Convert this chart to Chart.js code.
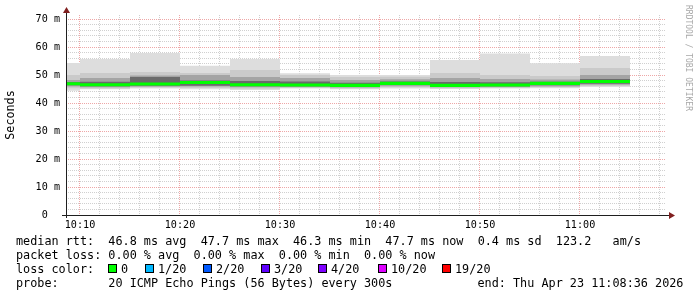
<!DOCTYPE html>
<html><head><meta charset="utf-8">
<script src="https://cdn.jsdelivr.net/npm/chart.js@4/dist/chart.umd.min.js"></script>
<style>
html,body{margin:0;padding:0;background:#fff;}
#wrap{position:relative;width:697px;height:297px;overflow:hidden;background:#fff;}
canvas{position:absolute;left:0;top:0;}
.t{position:absolute;font-family:'DejaVu Sans Mono',monospace;font-size:11.8px;line-height:14px;white-space:pre;color:#000;}
.box{position:absolute;width:7px;height:7px;border:1px solid #000;}
#wm{position:absolute;left:684px;top:5px;writing-mode:vertical-rl;font-family:'DejaVu Sans Mono',monospace;font-size:8px;line-height:9px;color:#a8a8a8;white-space:pre;}
</style></head><body>
<div id="wrap">
<canvas id="c" width="697" height="297"></canvas>
<div id="wm">RRDTOOL / TOBI OETIKER</div>
<div id="footer"></div>
</div>
<script>
// ---- data ----
const binStarts = ['10:05','10:10','10:15','10:20','10:25','10:30','10:35','10:40','10:45','10:50','10:55','11:00'];
const binMinutes = 5;
const viewStart = '10:08:36';
const viewEnd = '11:08:36';
const xTickLabels = ['10:10','10:20','10:30','10:40','10:50','11:00'];
const yTickValues = [0,10,20,30,40,50,60,70];
const yTickLabels = ['0','10 m','20 m','30 m','40 m','50 m','60 m','70 m'];

// sorted ping ranks (ms) per 5-minute bin
const pingMax = [54.3, 55.7, 57.9, 53.3, 55.7, 50.6, 50.0, 50.0, 55.4, 57.7, 54.2, 56.8];
const ping19  = [50.0, 50.7, 51.1, 50.7, 51.8, 50.0, 49.3, 49.4, 50.7, 50.0, 49.6, 52.5];
const ping17  = [48.2, 48.9, 49.8, 50.0, 49.3, 48.9, 48.2, 48.5, 48.9, 48.6, 48.4, 50.0];
const ping14  = [47.5, 47.6, 49.3, 48.0, 47.9, 47.7, 47.2, 47.7, 47.5, 47.4, 47.6, 48.6];
const median  = [46.9, 46.5, 46.8, 47.3, 46.5, 46.4, 46.3, 47.0, 46.3, 46.4, 47.0, 47.7];
const ping7   = [46.3, 46.0, 46.2, 46.2, 46.0, 46.0, 45.8, 46.4, 45.9, 46.0, 46.3, 46.9];
const ping4   = [45.9, 45.6, 45.8, 45.9, 45.6, 45.7, 45.5, 46.0, 45.6, 45.7, 45.9, 46.5];
const ping2   = [45.3, 45.2, 45.5, 45.4, 45.1, 45.4, 45.2, 45.6, 45.3, 45.4, 45.6, 46.1];
const pingMin = [44.4, 44.9, 45.2, 44.9, 44.6, 45.2, 44.9, 45.2, 45.0, 45.2, 45.3, 45.7];

const lossLabels = ['0','1/20','2/20','3/20','4/20','10/20','19/20'];
const lossColors = ['#00ff00','#00b8ff','#0059ff','#5e00ff','#7e00ff','#dd00ff','#ff0000'];

// ---- helpers / styles ----
const toMin = s => { const p = s.split(':').map(Number); return p[0]*60 + p[1] + (p[2]||0)/60 - 600; };
const FONT = "'DejaVu Sans Mono', monospace";
const minorGrid = 'rgba(143,143,143,0.42)';
const majorGrid = 'rgba(222,79,79,0.5)';
const yMax = 71.43;
const medianHalf = 0.55;
const plotWidth = 697 - 66 - 31;
const barPx = plotWidth * binMinutes / (toMin(viewEnd) - toMin(viewStart));

const bar = (label, lo, hi, color) => ({
  label, type: 'bar', backgroundColor: color, borderWidth: 0, inflateAmount: 0,
  barThickness: barPx, grouped: false,
  data: binStarts.map((t, i) => ({ x: toMin(t) + binMinutes / 2, y: [lo[i], hi[i]] }))
});

const datasets = [
  bar('median', median.map(v => v - medianHalf), median.map(v => v + medianHalf), lossColors[0]),
  bar('smoke4', ping7, ping14, '#6b6b6b'),
  bar('smoke3', ping4, ping17, '#a4a4a4'),
  bar('smoke2', ping2, ping19, '#cacaca'),
  bar('smoke1', pingMin, pingMax, '#dddddd')
];

const axisPlugin = {
  id: 'rrdAxes',
  afterDraw(chart) {
    const { ctx, chartArea: a } = chart;
    ctx.save();
    ctx.fillStyle = '#1f1f1f';
    ctx.fillRect(a.left, a.top - 3, 1, a.bottom - a.top + 6);
    ctx.fillRect(a.left - 4, a.bottom, a.right - a.left + 8, 1);
    ctx.fillStyle = '#801f1f';
    ctx.beginPath();
    ctx.moveTo(a.left - 3, a.top - 2); ctx.lineTo(a.left + 4, a.top - 2); ctx.lineTo(a.left + 0.5, a.top - 8);
    ctx.closePath(); ctx.fill();
    ctx.beginPath();
    ctx.moveTo(a.right + 3, a.bottom - 3); ctx.lineTo(a.right + 3, a.bottom + 4); ctx.lineTo(a.right + 9, a.bottom + 0.5);
    ctx.closePath(); ctx.fill();
    ctx.restore();
  }
};

new Chart(document.getElementById('c'), {
  type: 'bar',
  data: { datasets },
  options: {
    responsive: false, animation: false, devicePixelRatio: 1,
    layout: { padding: { top: 15, right: 31, left: 0, bottom: 0 } },
    plugins: { legend: { display: false }, tooltip: { enabled: false } },
    scales: {
      x: {
        type: 'linear', min: toMin(viewStart), max: toMin(viewEnd), offset: false, z: 1,
        afterBuildTicks: s => { const t = []; for (let m = Math.ceil(s.min / 2) * 2; m <= s.max; m += 2) t.push({ value: m }); s.ticks = t; },
        afterFit: s => { s.height = 82; },
        grid: { offset: false, drawTicks: false, lineWidth: 1,
          color: c => (c.tick && Math.round(c.tick.value) % 10 === 0) ? majorGrid : minorGrid },
        border: { display: false, dash: [1, 1] },
        ticks: { autoSkip: false, maxRotation: 0, minRotation: 0, padding: 4, color: '#000',
          font: { family: FONT, size: 10.15 },
          callback: v => { const l = xTickLabels.find(t => Math.abs(toMin(t) - v) < 1e-6); return l || ''; } }
      },
      y: {
        type: 'linear', min: 0, max: yMax, z: 1,
        afterBuildTicks: s => { const t = []; for (let v = 0; v <= s.max; v += 2) t.push({ value: v }); s.ticks = t; },
        afterFit: s => { s.width = 66; },
        grid: { drawTicks: false, lineWidth: 1,
          color: c => { if (!c.tick) return minorGrid; const v = Math.round(c.tick.value); return v === 0 ? 'rgba(0,0,0,0)' : (v % 10 === 0 ? majorGrid : minorGrid); } },
        border: { display: false, dash: [1, 1] },
        ticks: { autoSkip: false, padding: 6, color: '#000', font: { family: FONT, size: 10.15 },
          callback: v => { const i = yTickValues.indexOf(Math.round(v)); if (i < 0 || Math.abs(v - yTickValues[i]) > 1e-6) return ''; const l = yTickLabels[i]; return l.indexOf(' ') < 0 ? l + '  ' : l; } },
        title: { display: true, text: 'Seconds', color: '#000', font: { family: FONT, size: 11.75 }, padding: { top: 4, bottom: 0 } }
      }
    }
  },
  plugins: [axisPlugin]
});

// ---- footer (legend text) ----
const footer = document.getElementById('footer');
const addText = (x, y, s) => { const d = document.createElement('div'); d.className = 't'; d.style.left = x + 'px'; d.style.top = y + 'px'; d.textContent = s; footer.appendChild(d); };
addText(16, 234, 'median rtt:  46.8 ms avg  47.7 ms max  46.3 ms min  47.7 ms now  0.4 ms sd  123.2   am/s');
addText(16, 248, 'packet loss: 0.00 % avg  0.00 % max  0.00 % min  0.00 % now');
addText(16, 262, 'loss color:');
const boxX = [108, 145, 203, 261, 318, 378, 442];
lossLabels.forEach((l, i) => {
  const b = document.createElement('div'); b.className = 'box';
  b.style.left = boxX[i] + 'px'; b.style.top = '264px'; b.style.background = lossColors[i];
  footer.appendChild(b);
  addText(boxX[i] + 13, 262, l);
});
addText(16, 276, 'probe:       20 ICMP Echo Pings (56 Bytes) every 300s');
addText(477.5, 276, 'end: Thu Apr 23 11:08:36 2026');
</script>
</body></html>
